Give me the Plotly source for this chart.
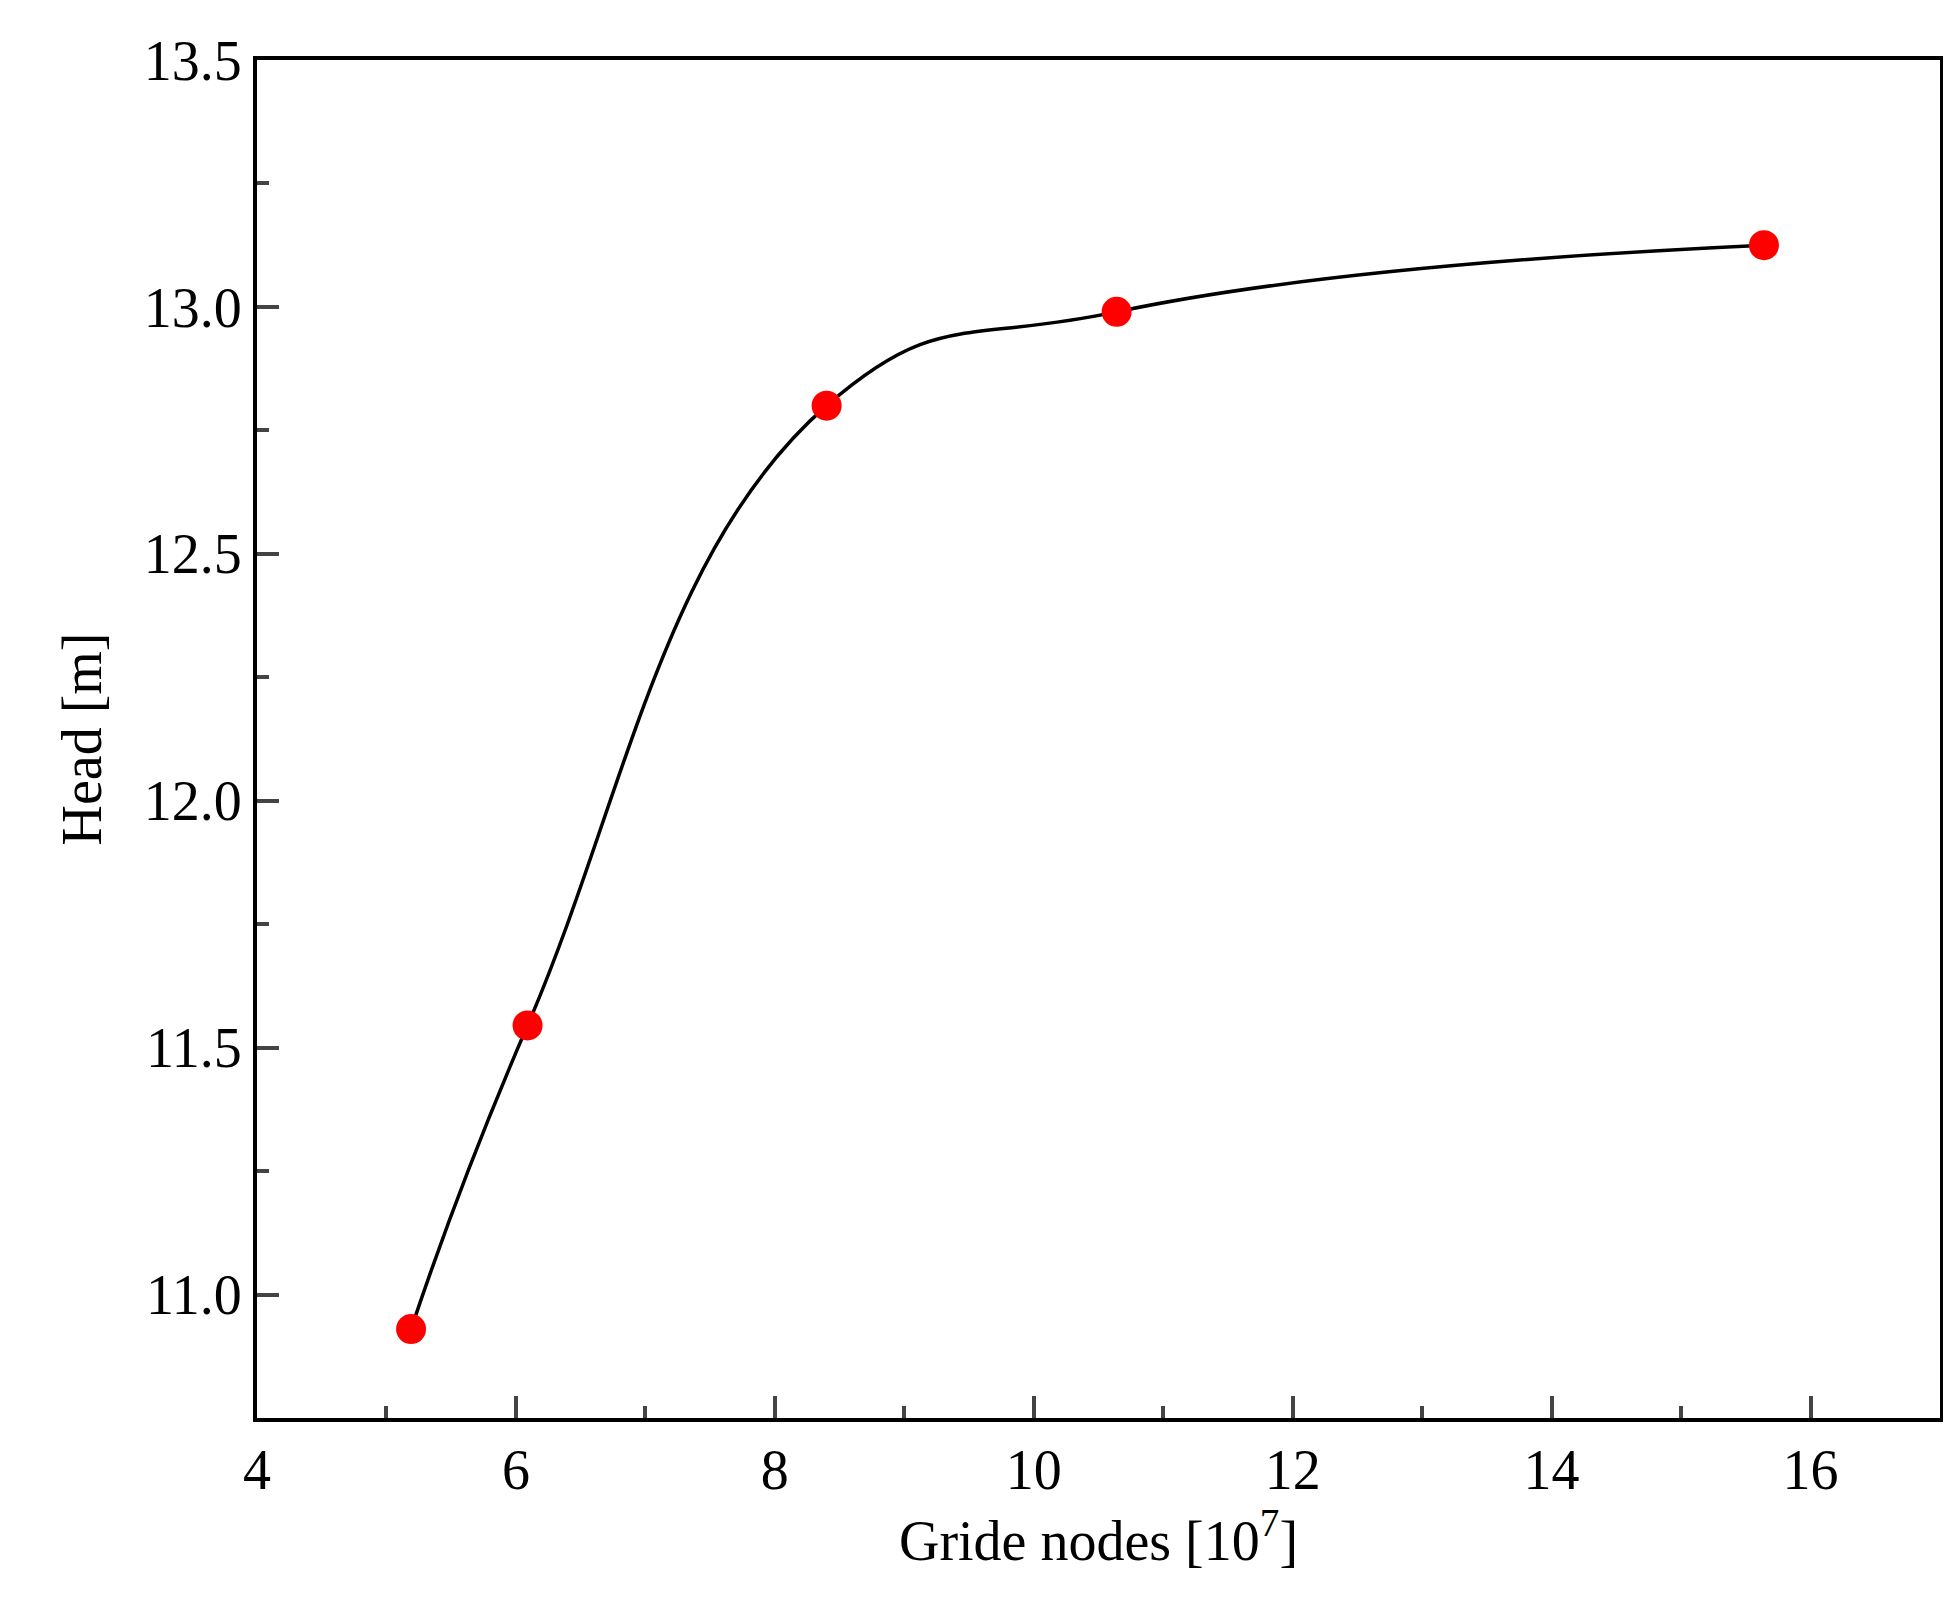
import plotly.graph_objects as go

nodes = [5.19, 6.09, 8.40, 10.64, 15.64]
head = [10.93, 11.545, 12.80, 12.99, 13.125]
x_ticks = [4, 6, 8, 10, 12, 14, 16]
y_ticks = [11.0, 11.5, 12.0, 12.5, 13.0, 13.5]

fig = go.Figure()
fig.add_trace(go.Scatter(x=nodes, y=head, mode="lines", line=dict(color="black", width=3.5, shape="spline", smoothing=1.3), showlegend=False))
fig.add_trace(go.Scatter(x=nodes, y=head, mode="markers", marker=dict(color="red", size=30), showlegend=False))

font = dict(family="Liberation Serif", size=56, color="black")
fig.update_layout(
    width=1951, height=1609, paper_bgcolor="white", plot_bgcolor="white",
    margin=dict(l=249, r=19, t=52, b=199), font=font,
    xaxis=dict(range=[4, 17], tickvals=x_ticks, ticktext=[str(v) for v in x_ticks],
               ticks="inside", ticklen=22, tickwidth=4, showline=True, linewidth=4, linecolor="black", mirror=True,
               showgrid=False, zeroline=False,
               minor=dict(tickvals=[5, 7, 9, 11, 13, 15], ticks="inside", ticklen=12, tickwidth=4),
               title=dict(text="Gride nodes [10<sup>7</sup>]", font=font, standoff=20)),
    yaxis=dict(range=[10.75, 13.5], tickvals=y_ticks, ticktext=[f"{v:.1f}" for v in y_ticks],
               ticks="inside", ticklen=22, tickwidth=4, showline=True, linewidth=4, linecolor="black", mirror=True,
               showgrid=False, zeroline=False,
               minor=dict(tickvals=[11.25, 11.75, 12.25, 12.75, 13.25], ticks="inside", ticklen=12, tickwidth=4),
               title=dict(text="Head [m]", font=font, standoff=25)),
)
fig.write_html("out.html")
